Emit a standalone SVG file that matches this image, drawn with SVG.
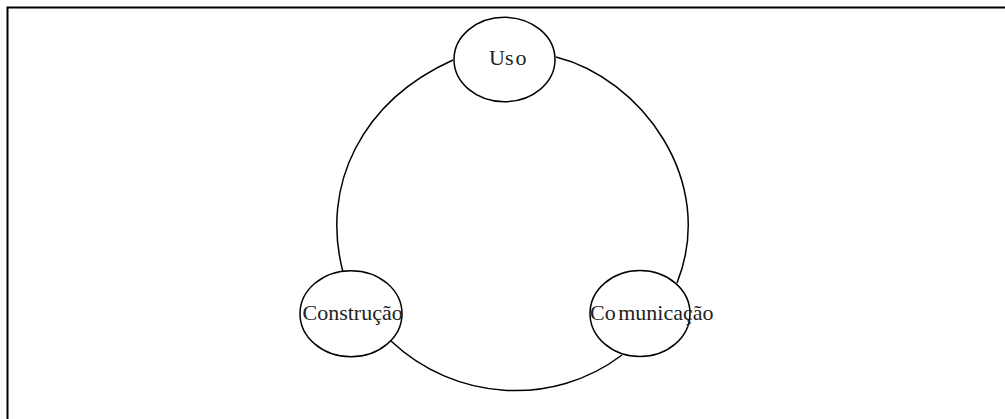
<svg xmlns="http://www.w3.org/2000/svg" width="1005" height="419" viewBox="0 0 1005 419">
  <style>
    .frame { fill: none; stroke: #000; stroke-width: 2; }
    .node ellipse { fill: #fff; stroke: #000; stroke-width: 1.5; }
    .node text { font-family: "Liberation Serif", "Times New Roman", serif; font-size: 22px; fill: #222; }
    .edge { fill: none; stroke: #000; stroke-width: 1.5; }
  </style>
  <rect width="1005" height="419" fill="#fff"/>
  <!-- outer frame, open to the right and bottom -->
  <rect class="frame" x="7.5" y="7.5" width="1010" height="430"/>

  <g id="connectors">
    <path class="edge" d="M556,57 C640,78 718,180 677,283"/>
    <path class="edge" d="M622,355 C552.8,407.7 454.2,400.8 391,341"/>
    <path class="edge" d="M343,272 C320,185 362,101 453,60"/>
  </g>

  <g id="node-uso" class="node">
    <ellipse cx="504.5" cy="59.5" rx="50.5" ry="42.2"/>
    <text x="489" y="65">Us<tspan dx="2">o</tspan></text>
  </g>
  <g id="node-construcao" class="node">
    <ellipse cx="351" cy="313.7" rx="51" ry="43"/>
    <text x="302.5" y="319.5">Construção</text>
  </g>
  <g id="node-comunicacao" class="node">
    <ellipse cx="640" cy="313.5" rx="50" ry="43"/>
    <text x="590" y="319.5">Co<tspan dx="2.5">municação</tspan></text>
  </g>
</svg>
